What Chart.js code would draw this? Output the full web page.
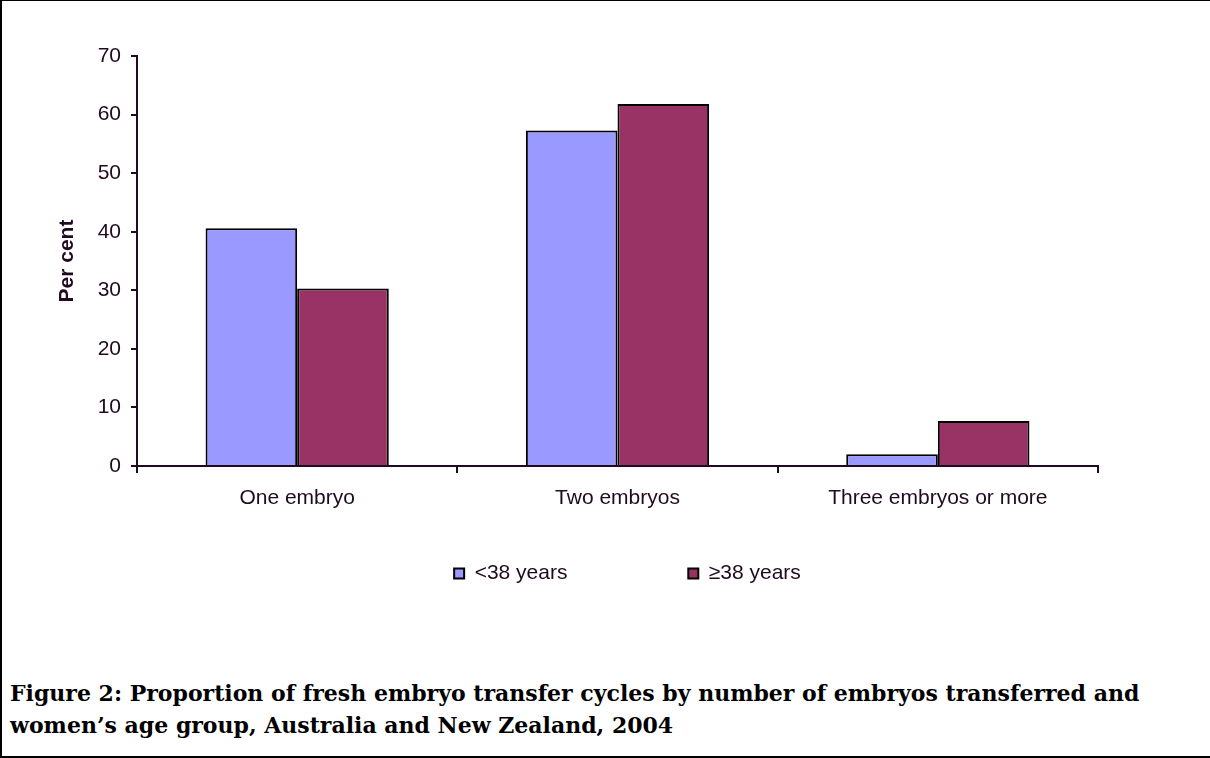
<!DOCTYPE html>
<html>
<head>
<meta charset="utf-8">
<script src="https://cdn.jsdelivr.net/npm/chart.js@4.4.1/dist/chart.umd.min.js"></script>
<style>
  body { margin: 0; background: #fff; overflow: hidden; }
  #frame {
    position: absolute; left: 0; top: 0; width: 1210px; height: 758px;
    box-sizing: border-box;
    border-top: 1px solid #000; border-left: 2px solid #000; border-bottom: 2px solid #000;
  }
  #chart-wrap { position: absolute; left: 0; top: 0; width: 1210px; height: 620px; }
  #caption {
    position: absolute; left: 10px; top: 677px; width: 1195px;
    font-family: "DejaVu Serif", serif; font-weight: bold; font-size: 22px;
    line-height: 32px; color: #000; white-space: nowrap;
  }
</style>
</head>
<body>
<div id="frame"></div>
<div id="chart-wrap"><canvas id="chart" width="1210" height="620"></canvas></div>
<div id="caption">Figure 2: Proportion of fresh embryo transfer cycles by number of embryos transferred and<br>women’s age group, Australia and New Zealand, 2004</div>
<script>
const categories = ["One embryo", "Two embryos", "Three embryos or more"];
const seriesNames = ["<38 years", "≥38 years"];
const under38 = [40.6, 57.3, 2.0];
const over38 = [30.3, 61.8, 7.7];
const yMin = 0;
const yMax = 70;
const yStep = 10;
const yTitle = "Per cent";

const inkColor = "#1f0a1f";
const font = { family: "'Liberation Sans', Arial, sans-serif", size: 21 };

// nudge the legend a little to the right, as in the original
const legendShift = {
  id: "legendShift",
  afterLayout(chart) {
    chart.legend.left += 10;
    chart.legend.right += 10;
  },
};

new Chart(document.getElementById("chart"), {
  type: "bar",
  data: {
    labels: categories,
    datasets: [
      {
        label: seriesNames[0],
        data: under38,
        backgroundColor: "#9999ff",
        borderColor: "#000",
        borderWidth: 2,
      },
      {
        label: seriesNames[1],
        data: over38,
        backgroundColor: "#993366",
        borderColor: "#000",
        borderWidth: 2,
      },
    ],
  },
  options: {
    responsive: false,
    animation: false,
    devicePixelRatio: 1,
    layout: { padding: { left: 51, right: 112, top: 56, bottom: 26 } },
    datasets: { bar: { categoryPercentage: 0.572, barPercentage: 1.0 } },
    plugins: {
      tooltip: { enabled: false },
      legend: {
        position: "bottom",
        fullSize: false,
        labels: {
          color: inkColor,
          font: font,
          boxWidth: 10,
          boxHeight: 10,
          padding: 10,
          generateLabels: (chart) => {
            const items = Chart.defaults.plugins.legend.labels.generateLabels(chart);
            items.forEach((item) => { item.lineWidth = 2; item.strokeStyle = "#000"; });
            items[0].text += " ".repeat(19);
            return items;
          },
        },
      },
    },
    scales: {
      x: {
        offset: true,
        grid: { display: true, drawOnChartArea: false, color: inkColor, lineWidth: 2, tickLength: 7, offset: true },
        border: { color: inkColor, width: 2 },
        ticks: { color: inkColor, font: font, padding: 13, maxRotation: 0 },
        afterFit: (scale) => { scale.height = 87; },
      },
      y: {
        min: yMin,
        max: yMax,
        ticks: { stepSize: yStep, color: inkColor, font: font, padding: 10 },
        grid: { display: true, drawOnChartArea: false, color: inkColor, lineWidth: 2, tickLength: 6 },
        border: { color: inkColor, width: 2 },
        title: { display: true, text: yTitle, color: inkColor, font: { ...font, weight: "bold" } },
        afterFit: (scale) => { scale.width = 86; },
      },
    },
  },
  plugins: [legendShift],
});
</script>
</body>
</html>
